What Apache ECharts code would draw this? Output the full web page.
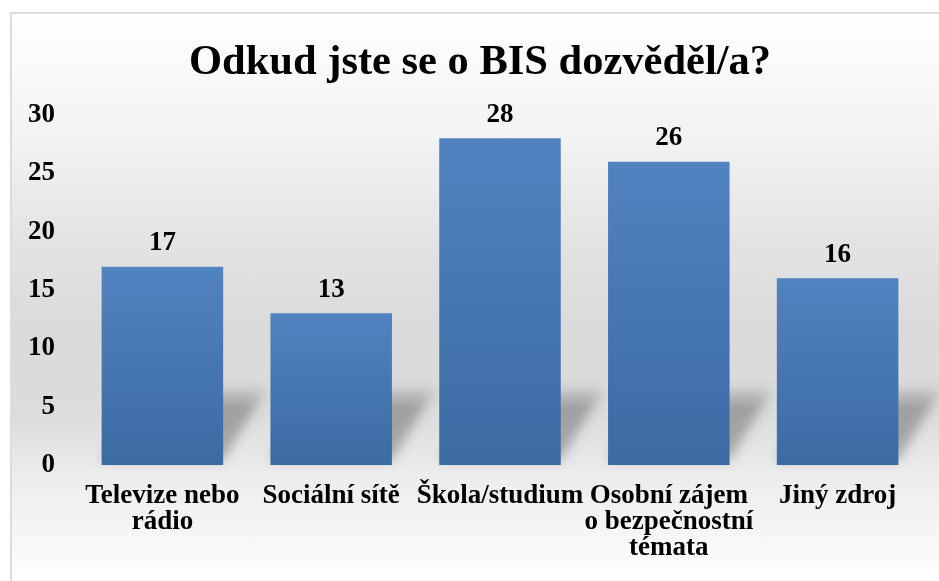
<!DOCTYPE html>
<html>
<head>
<meta charset="utf-8">
<script src="https://cdn.jsdelivr.net/npm/echarts@6/dist/echarts.min.js"></script>
<style>
html,body{margin:0;padding:0;background:#ffffff;width:939px;height:581px;overflow:hidden;}
#frame{position:absolute;left:10px;top:12px;width:940px;height:580px;border-top:2px solid #dcdcdc;border-left:2px solid #dcdcdc;
background:linear-gradient(to bottom,#ffffff 0px,#f3f3f3 120px,#e3e3e3 230px,#dadada 320px,#dcdcdc 400px,#ececec 460px,#f6f6f6 520px,#ffffff 570px);}
#chart{position:absolute;left:0;top:0;width:939px;height:581px;}
</style>
</head>
<body>
<div id="frame"></div>
<div id="chart"></div>
<script>
const titleText = 'Odkud jste se o BIS dozvěděl/a?';
const categories = ['Televize nebo\nrádio', 'Sociální sítě', 'Škola/studium', 'Osobní zájem\no bezpečnostní\ntémata', 'Jiný zdroj'];
const values = [17, 13, 28, 26, 16];
const yTicks = [0, 5, 10, 15, 20, 25, 30];

const chart = echarts.init(document.getElementById('chart'), null, {renderer: 'canvas'});
const font = '"Liberation Serif", "Times New Roman", serif';
const barRatio = 0.72;
const OFF = 3000;

chart.setOption({
  backgroundColor: 'transparent',
  title: {
    text: titleText,
    left: 184,
    top: 37,
    textStyle: {fontFamily: font, fontWeight: 'bold', fontSize: 42.5, color: '#000'}
  },
  grid: {left: 78, right: 17, top: 115, bottom: 116, containLabel: false},
  xAxis: {
    type: 'category',
    data: categories,
    axisLine: {show: false},
    axisTick: {show: false},
    axisLabel: {
      interval: 0,
      margin: 18,
      fontFamily: font, fontWeight: 'bold', fontSize: 27, color: '#000',
      lineHeight: 26
    }
  },
  yAxis: {
    type: 'value',
    min: yTicks[0],
    max: yTicks[yTicks.length - 1],
    interval: 5,
    splitLine: {show: false},
    axisLine: {show: false},
    axisTick: {show: false},
    axisLabel: {margin: 23, fontFamily: font, fontWeight: 'bold', fontSize: 27, color: '#000'}
  },
  series: [
    {
      type: 'custom',
      z: 1,
      silent: true,
      data: values.map((v, i) => [i, v]),
      renderItem: function (params, api) {
        const base = api.coord([api.value(0), 0]);
        const w = api.size([1, 0])[0] * barRatio;
        const xl = base[0] - w / 2 - OFF, xr = base[0] + w / 2 - OFF, y0 = base[1];
        const dx = 44, h = 78;
        return {
          type: 'polygon',
          shape: {points: [[xl, y0 - 5], [xr, y0 - 5], [xr + dx, y0 - h], [xl + dx, y0 - h]]},
          style: {
            fill: new echarts.graphic.LinearGradient(0, 0, 0, 1, [
              {offset: 0, color: 'rgba(0,0,0,0.3)'},
              {offset: 0.3, color: 'rgba(0,0,0,1)'},
              {offset: 1, color: 'rgba(0,0,0,1)'}
            ]),
            shadowBlur: 12,
            shadowOffsetX: OFF,
            shadowColor: 'rgba(0,0,0,0.27)'
          }
        };
      }
    },
    {
      type: 'bar',
      z: 3,
      data: values,
      barCategoryGap: '28%',
      itemStyle: {
        color: new echarts.graphic.LinearGradient(0, 0, 0, 1, [
          {offset: 0, color: '#5183c0'},
          {offset: 1, color: '#3c6aa3'}
        ])
      },
      label: {
        show: true,
        position: 'top',
        distance: 10,
        fontFamily: font, fontWeight: 'bold', fontSize: 27, color: '#000'
      }
    }
  ]
});
</script>
</body>
</html>
